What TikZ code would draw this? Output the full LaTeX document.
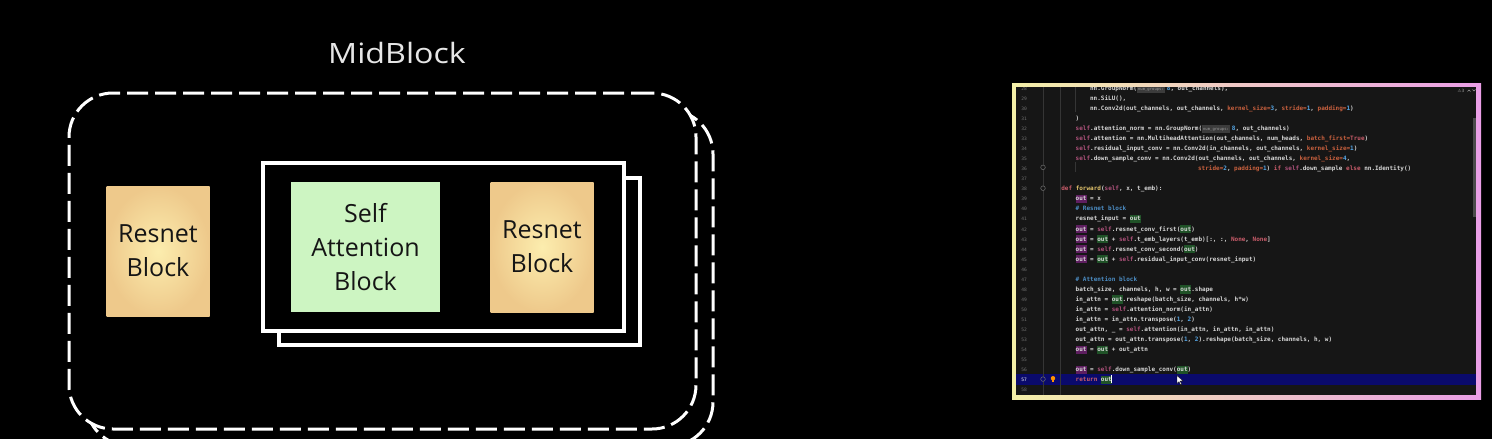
\documentclass[tikz,border=0pt]{standalone}
\usepackage{fontspec}
\usepackage{graphicx}
\setmainfont{Open Sans}
\newfontfamily\codefont{DejaVu Sans Mono}
\newfontfamily\symfont{DejaVu Sans}
\definecolor{resin}{HTML}{FCEDAE}
\definecolor{resout}{HTML}{EEC98B}
\definecolor{attfill}{HTML}{CDF5C2}
\definecolor{boxtext}{HTML}{151515}
\definecolor{midgray}{HTML}{E6E6E6}
\definecolor{bordl}{HTML}{F4EFA8}
\definecolor{bordm}{HTML}{F2C8C0}
\definecolor{bordr}{HTML}{EA9EE6}
\definecolor{panelbg}{HTML}{161616}
\definecolor{curline}{HTML}{0A0A6C}
\definecolor{guide}{HTML}{353535}
\definecolor{codefg}{HTML}{D6D6D6}
\definecolor{cself}{HTML}{B0527C}
\definecolor{ckwa}{HTML}{C8603E}
\definecolor{cnum}{HTML}{56A8E8}
\definecolor{ckey}{HTML}{C95C6A}
\definecolor{ccmt}{HTML}{4C8DC4}
\definecolor{cfn}{HTML}{E3C46C}
\definecolor{hlwbg}{HTML}{5E1E60}
\definecolor{hlrbg}{HTML}{1F5227}
\definecolor{inlaybg}{HTML}{3C3C3C}
\definecolor{inlayfg}{HTML}{9A9A9A}
\definecolor{lnumc}{HTML}{707070}
\definecolor{scrollc}{HTML}{4A4A4A}
\newcommand\bxfont{\fontsize{25}{34}\selectfont}
\newcommand\slf{\textcolor{cself}{self}}
\newcommand\kwa[1]{\textcolor{ckwa}{#1}}
\newcommand\nm[1]{\textcolor{cnum}{#1}}
\newcommand\kwd[1]{\textcolor{ckey}{#1}}
\newcommand\cmt[1]{\textcolor{ccmt}{#1}}
\newcommand\fnm[1]{\textcolor{cfn}{#1}}
\newsavebox\hlbox
\newcommand\hlt[2]{\sbox\hlbox{#2}\makebox[0pt][l]{\color{#1}\rule[-2.2pt]{\wd\hlbox}{8.2pt}}\usebox\hlbox}
\newcommand\outw{\hlt{hlwbg}{out}}
\newcommand\outr{\hlt{hlrbg}{out}}
\newcommand\inl[1]{\sbox\hlbox{\mdseries\fontsize{3.9}{4}\selectfont\textcolor{inlayfg}{#1}}\makebox[0pt][l]{\color{inlaybg}\rule[-2.2pt]{\dimexpr\wd\hlbox+2pt\relax}{8.2pt}}\hspace{1pt}\usebox\hlbox\hspace{3pt}}
\newcommand\codeln[3]{\node[codetext] (code#1) at ({1046.7+3.6*#2},{97.7+(#1-29)*10.05}) {#3};}
\begin{document}
\begin{tikzpicture}[x=1pt,y=-1pt,
  dashbox/.style={draw=white, line width=3pt, dash pattern=on 21pt off 7pt, rounded corners=44pt, minimum width=627pt, minimum height=336pt, inner sep=0pt},
  framebox/.style={draw=white, line width=3.5pt, minimum width=361pt, minimum height=167pt, inner sep=0pt},
  resbox/.style={inner color=resin, outer color=resout, minimum width=103pt, minimum height=130pt, inner sep=0pt, align=center, font=\bxfont, text=boxtext},
  attbox/.style={fill=attfill, minimum width=149pt, minimum height=130pt, inner sep=0pt, align=center, font=\bxfont, text=boxtext},
  codetext/.style={anchor=mid west, inner sep=0pt, font=\codefont\bfseries\fontsize{6}{7}\selectfont, text=codefg},
  lnum/.style={anchor=mid east, inner sep=0pt, font=\codefont\fontsize{4.6}{5}\selectfont, text=lnumc},
  guideline/.style={draw=guide, line width=0.6pt}]
\useasboundingbox[fill=black] (0,0) rectangle (1492,439);

% ---------- left diagram ----------
\node[font=\fontsize{28}{28}\selectfont, text=midgray, anchor=base, inner sep=0pt] (title) at (397,63) {\scalebox{1.15}[1]{MidBlock}};
\node[dashbox] (midback) at (399.5,278) {};
\node[dashbox, fill=black] (midfront) at (382.5,261) {};
\node[framebox] (layerback) at (459.5,261.5) {};
\node[framebox, fill=black, minimum height=168pt] (layerfront) at (443.5,247) {};
\node[resbox] (res1) at (158,251) {Resnet\\Block};
\node[attbox] (attn) at (365.5,247) {Self\\Attention\\Block};
\node[resbox] (res2) at (542,247) {Resnet\\Block};

% ---------- code panel ----------
\shade[left color=bordl, middle color=bordm, right color=bordr] (1012,83) rectangle (1481,399);
\fill[panelbg] (1016,87) rectangle (1476,395);
\begin{scope}
\clip (1016,87) rectangle (1476,395);
\fill[curline] (1016,373.8) rectangle (1476,384.6);
\fill[scrollc] (1472.5,118) rectangle (1476,217);
\draw[guideline] (1043,84) -- (1043,395);
\draw[guideline] (1060,84) -- (1060,395);
\draw[guideline] (1075,84) -- (1075,112);
\draw[guideline] (1075,162) -- (1075,172);
\foreach \n in {28,...,56,58} {
  \pgfmathsetmacro\yy{97.7+(\n-29)*10.05}
  \node[lnum] (ln\n) at (1027,\yy) {\n};
}
\node[lnum, text=white] (ln57) at (1027,379.1) {57};
\draw[lnumc, fill=panelbg, line width=0.5pt] (1043,167.35) circle (2.3pt);
\draw[lnumc, fill=panelbg, line width=0.5pt] (1043,188.2) circle (2.3pt);
\draw[lnumc, fill=curline, line width=0.5pt] (1043,379.1) circle (2.3pt);
\fill[orange!85!yellow] (1053,378.2) circle (2.2pt);
\fill[orange!85!yellow] (1052,380) rectangle (1054,382.3);

\codeln{28}{12}{nn.GroupNorm(\inl{num\_groups:}\nm{8}, out\_channels),}
\codeln{29}{12}{nn.SiLU(),}
\codeln{30}{12}{nn.Conv2d(out\_channels, out\_channels, \kwa{kernel\_size=}\nm{3}, \kwa{stride=}\nm{1}, \kwa{padding=}\nm{1})}
\codeln{31}{8}{)}
\codeln{32}{8}{\slf.attention\_norm = nn.GroupNorm(\inl{num\_groups:}\nm{8}, out\_channels)}
\codeln{33}{8}{\slf.attention = nn.MultiheadAttention(out\_channels, num\_heads, \kwa{batch\_first=}\kwd{True})}
\codeln{34}{8}{\slf.residual\_input\_conv = nn.Conv2d(in\_channels, out\_channels, \kwa{kernel\_size=}\nm{1})}
\codeln{35}{8}{\slf.down\_sample\_conv = nn.Conv2d(out\_channels, out\_channels, \kwa{kernel\_size=}\nm{4},}
\codeln{36}{42}{\kwa{stride=}\nm{2}, \kwa{padding=}\nm{1}) \kwd{if} \slf.down\_sample \kwd{else} nn.Identity()}
\codeln{38}{4}{\kwd{def} \fnm{forward}(\slf, x, t\_emb):}
\codeln{39}{8}{\outw{} = x}
\codeln{40}{8}{\cmt{\# Resnet block}}
\codeln{41}{8}{resnet\_input = \outr}
\codeln{42}{8}{\outw{} = \slf.resnet\_conv\_first(\outr)}
\codeln{43}{8}{\outw{} = \outr{} + \slf.t\_emb\_layers(t\_emb)[:, :, \kwd{None}, \kwd{None}]}
\codeln{44}{8}{\outw{} = \slf.resnet\_conv\_second(\outr)}
\codeln{45}{8}{\outw{} = \outr{} + \slf.residual\_input\_conv(resnet\_input)}
\codeln{47}{8}{\cmt{\# Attention block}}
\codeln{48}{8}{batch\_size, channels, h, w = \outr.shape}
\codeln{49}{8}{in\_attn = \outr.reshape(batch\_size, channels, h*w)}
\codeln{50}{8}{in\_attn = \slf.attention\_norm(in\_attn)}
\codeln{51}{8}{in\_attn = in\_attn.transpose(\nm{1}, \nm{2})}
\codeln{52}{8}{out\_attn, \_ = \slf.attention(in\_attn, in\_attn, in\_attn)}
\codeln{53}{8}{out\_attn = out\_attn.transpose(\nm{1}, \nm{2}).reshape(batch\_size, channels, h, w)}
\codeln{54}{8}{\outw{} = \outr{} + out\_attn}
\codeln{56}{8}{\outw{} = \slf.down\_sample\_conv(\outr)}
\codeln{57}{8}{\kwd{return} \outr}
\coordinate (cur1) at (1111.7,374.8);
\coordinate (cur2) at (1111.7,383.4);
\draw[white, line width=0.7pt] (cur1) -- (cur2);
\fill[white, draw=black, line width=0.3pt] (1177,375.5) -- (1177,383.5) -- (1179,381.6) -- (1180.5,384.8) -- (1181.7,384.3) -- (1180.2,381.1) -- (1183,381.1) -- cycle;
\node[font=\symfont\fontsize{4.3}{5}\selectfont, text=inlayfg, inner sep=0pt] (warn) at (1461,90.5) {⚠3};
\draw[inlayfg, line width=0.5pt] (1467.5,91.5) -- (1469,90) -- (1470.5,91.5);
\draw[inlayfg, line width=0.5pt] (1472.5,89.5) -- (1474,91) -- (1475.5,89.5);
\end{scope}
\end{tikzpicture}
\end{document}
